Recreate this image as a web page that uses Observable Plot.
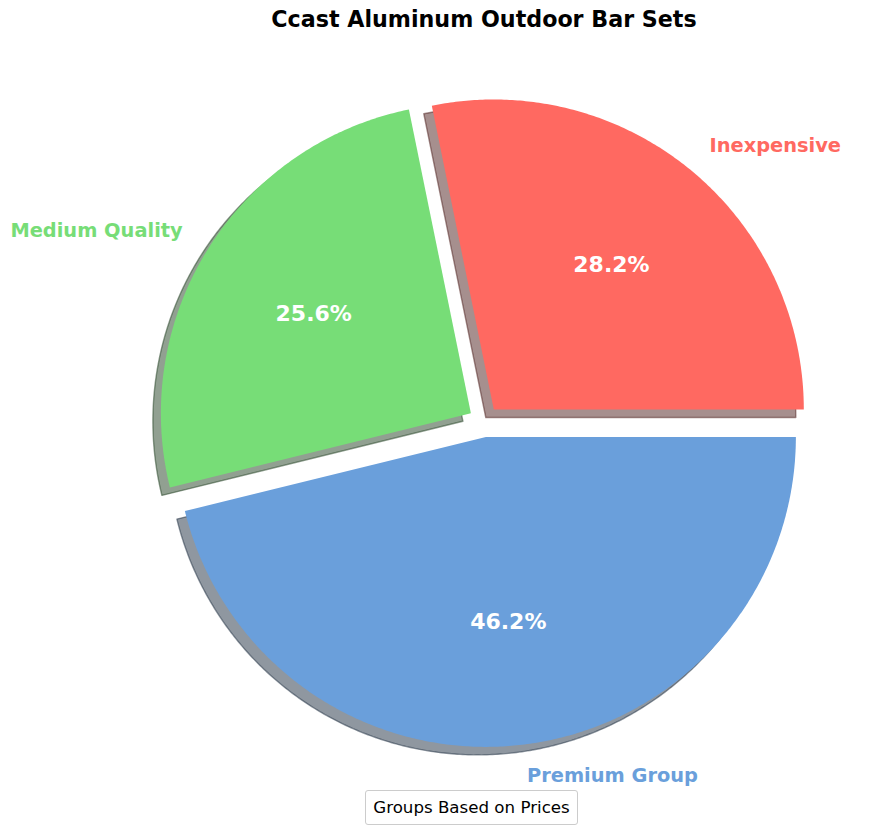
<!DOCTYPE html>
<html>
<head>
<meta charset="utf-8">
<script src="https://cdn.jsdelivr.net/npm/d3@7"></script>
<script src="https://cdn.jsdelivr.net/npm/@observablehq/plot@0.6"></script>
<style>
  html, body { margin: 0; padding: 0; background: #fff; }
  #wrap { position: relative; width: 881px; height: 827px; }
  #legend {
    position: absolute; left: 365px; top: 790px; width: 211px; height: 33px;
    border: 1px solid #cccccc; border-radius: 3px; background: #fff;
    font-family: "DejaVu Sans", sans-serif; font-size: 16.67px; color: #000;
    display: flex; align-items: center; justify-content: center; box-sizing: content-box;
  }
</style>
</head>
<body>
<div id="wrap"></div>
<script>
// ---- data ----
const categories = ["Inexpensive", "Medium Quality", "Premium Group"];
const counts = [11, 10, 18];
const palette = ["#ff6961", "#77dd77", "#6a9fdb"];
const explodeBy = [0.05, 0.05, 0.05];
const chartTitle = "Ccast Aluminum Outdoor Bar Sets";
const legendTitle = "Groups Based on Prices";

// ---- layout ----
const W = 881, H = 827;
const R = 310, CX = 483.5, CY = 421;

const rows = categories.map((c, i) => ({name: c, value: counts[i], color: palette[i], explode: explodeBy[i]}));
const total = d3.sum(counts);
const arcs = d3.pie().value(d => d.value).sort(null).startAngle(0).endAngle(2 * Math.PI)(rows);

const wedgePts = [];
const labels = [];
for (const a of arcs) {
  const mid = (a.startAngle + a.endAngle) / 2;
  const ox = a.data.explode * Math.cos(mid), oy = a.data.explode * Math.sin(mid);
  const base = {name: a.data.name, color: a.data.color,
    shadow: (() => { const c = d3.rgb(a.data.color); return d3.rgb(c.r * 0.3, c.g * 0.3, c.b * 0.3).formatHex(); })()};
  wedgePts.push({...base, x: ox, y: oy});
  const n = Math.max(2, Math.ceil((a.endAngle - a.startAngle) / (Math.PI / 360)));
  for (let k = 0; k <= n; k++) {
    const t = a.startAngle + (a.endAngle - a.startAngle) * k / n;
    wedgePts.push({...base, x: ox + Math.cos(t), y: oy + Math.sin(t)});
  }
  labels.push({
    name: a.data.name, color: a.data.color,
    lx: ox + 1.1 * Math.cos(mid), ly: oy + 1.1 * Math.sin(mid),
    px: ox + 0.6 * Math.cos(mid), py: oy + 0.6 * Math.sin(mid),
    right: Math.cos(mid) >= 0,
    pct: (a.data.value / total * 100).toFixed(1) + "%"
  });
}

const font = "DejaVu Sans, sans-serif";
const chart = Plot.plot({
  width: W, height: H,
  margin: 0,
  style: {fontFamily: font, background: "white"},
  x: {domain: [-CX / R, (W - CX) / R], axis: null},
  y: {domain: [-(H - CY) / R, CY / R], axis: null},
  color: {type: "identity"},
  marks: [
    // shadows
    Plot.line(wedgePts, {x: "x", y: "y", z: "name", curve: "linear-closed",
      fill: "shadow", fillOpacity: 0.5, stroke: "shadow", strokeOpacity: 0.5, strokeWidth: 1.4,
      dx: -8, dy: 8}),
    // wedges
    Plot.line(wedgePts, {x: "x", y: "y", z: "name", curve: "linear-closed", fill: "color", stroke: null}),
    // category labels
    Plot.text(labels.filter(d => d.right), {x: "lx", y: "ly", text: "name", fill: "color",
      textAnchor: "start", lineAnchor: "middle", fontSize: 19.4, fontWeight: "bold"}),
    Plot.text(labels.filter(d => !d.right), {x: "lx", y: "ly", text: "name", fill: "color",
      textAnchor: "end", lineAnchor: "middle", fontSize: 19.4, fontWeight: "bold"}),
    // percentages
    Plot.text(labels, {x: "px", y: "py", text: "pct", fill: "white",
      textAnchor: "middle", lineAnchor: "middle", fontSize: 22, fontWeight: "bold"}),
    // title (centred over the pie)
    Plot.text([chartTitle], {x: () => 0, frameAnchor: "top", text: d => d, dy: 19,
      lineAnchor: "middle", fontSize: 22.2, fontWeight: "bold", fill: "black"})
  ]
});
const wrap = document.getElementById("wrap");
wrap.appendChild(chart);
const lg = document.createElement("div");
lg.id = "legend";
lg.textContent = legendTitle;
wrap.appendChild(lg);
</script>
</body>
</html>
